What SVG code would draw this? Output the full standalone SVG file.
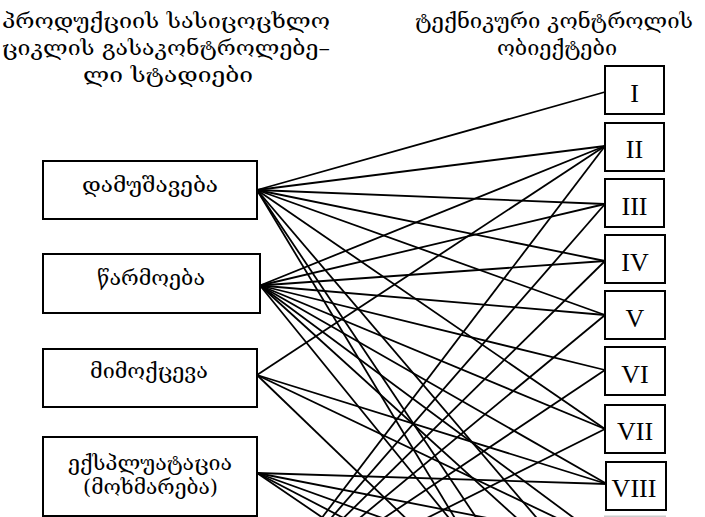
<svg xmlns="http://www.w3.org/2000/svg" width="705" height="517" viewBox="0 0 705 517">
  <style>
    .box { fill: #fff; stroke: #000; stroke-width: 2; }
    .geo { font-family: "DejaVu Serif", "DejaVu Sans", serif; font-size: 21px; fill: #000; }
    .num { font-family: "Liberation Serif", "Times New Roman", serif; font-size: 26px; fill: #000; text-anchor: middle; }
    #connectors line { stroke: #000; stroke-width: 1.8; }
  </style>
  <rect width="705" height="517" fill="#fff"/>

  <!-- column headings -->
  <g id="heading-stages">
    <text class="geo" x="2" y="28" textLength="328" lengthAdjust="spacingAndGlyphs">პროდუქციის  სასიცოცხლო</text>
    <text class="geo" x="2" y="55" textLength="328" lengthAdjust="spacingAndGlyphs">ციკლის  გასაკონტროლებე–</text>
    <text class="geo" x="83" y="82" textLength="170" lengthAdjust="spacingAndGlyphs">ლი  სტადიები</text>
  </g>
  <g id="heading-objects">
    <text class="geo" x="415" y="28" textLength="278" lengthAdjust="spacingAndGlyphs">ტექნიკური  კონტროლის</text>
    <text class="geo" x="497" y="55" textLength="120" lengthAdjust="spacingAndGlyphs">ობიექტები</text>
  </g>

  <!-- connectors: life-cycle stages to inspection objects -->
  <g id="connectors">
    <!-- stage 1 -->
    <line x1="257" y1="190" x2="605" y2="92"/>
    <line x1="257" y1="190" x2="605" y2="146"/>
    <line x1="257" y1="190" x2="605" y2="204"/>
    <line x1="257" y1="190" x2="605" y2="261"/>
    <line x1="257" y1="190" x2="605" y2="315"/>
    <line x1="257" y1="190" x2="605" y2="429"/>
    <line x1="257" y1="190" x2="605" y2="598"/>
    <line x1="257" y1="190" x2="605" y2="710"/>
    <line x1="257" y1="190" x2="605" y2="767"/>
    <!-- stage 2 -->
    <line x1="260" y1="285.5" x2="605" y2="146"/>
    <line x1="260" y1="285.5" x2="605" y2="204"/>
    <line x1="260" y1="285.5" x2="605" y2="261"/>
    <line x1="260" y1="285.5" x2="605" y2="315"/>
    <line x1="260" y1="285.5" x2="605" y2="370"/>
    <line x1="260" y1="285.5" x2="605" y2="429"/>
    <line x1="260" y1="285.5" x2="607" y2="484"/>
    <line x1="260" y1="285.5" x2="605" y2="541"/>
    <line x1="260" y1="285.5" x2="605" y2="598"/>
    <line x1="260" y1="285.5" x2="605" y2="710"/>
    <!-- stage 3 -->
    <line x1="257" y1="375" x2="605" y2="146"/>
    <line x1="257" y1="375" x2="607" y2="484"/>
    <line x1="257" y1="375" x2="605" y2="541"/>
    <line x1="257" y1="375" x2="605" y2="710"/>
    <!-- stage 4 -->
    <line x1="257" y1="473" x2="607" y2="484"/>
    <line x1="257" y1="473" x2="605" y2="541"/>
    <line x1="257" y1="473" x2="605" y2="598"/>
    <line x1="257" y1="473" x2="605" y2="654"/>
    <line x1="257" y1="473" x2="605" y2="710"/>
    <!-- stage 5 (below) -->
    <line x1="257" y1="603" x2="605" y2="146"/>
    <line x1="257" y1="603" x2="605" y2="204"/>
    <line x1="257" y1="603" x2="605" y2="261"/>
    <line x1="257" y1="603" x2="605" y2="315"/>
    <line x1="257" y1="603" x2="605" y2="370"/>
    <line x1="257" y1="603" x2="605" y2="429"/>
  </g>

  <!-- life-cycle stages -->
  <g id="stage-processing">
    <rect class="box" x="43" y="161" width="214" height="58"/>
    <text class="geo" x="82" y="192" textLength="136" lengthAdjust="spacingAndGlyphs">დამუშავება</text>
  </g>
  <g id="stage-production">
    <rect class="box" x="43" y="254" width="217" height="59"/>
    <text class="geo" x="97" y="285" textLength="108" lengthAdjust="spacingAndGlyphs">წარმოება</text>
  </g>
  <g id="stage-circulation">
    <rect class="box" x="43" y="349" width="214" height="58"/>
    <text class="geo" x="90" y="378" textLength="118" lengthAdjust="spacingAndGlyphs">მიმოქცევა</text>
  </g>
  <g id="stage-operation">
    <rect class="box" x="43" y="437" width="214" height="79"/>
    <text class="geo" x="68" y="470" textLength="164" lengthAdjust="spacingAndGlyphs">ექსპლუატაცია</text>
    <text class="geo" x="83" y="494" textLength="135" lengthAdjust="spacingAndGlyphs">(მოხმარება)</text>
  </g>

  <!-- inspection objects -->
  <g id="object-1"><rect class="box" x="605" y="66" width="59" height="48"/><text class="num" x="634.5" y="102">I</text></g>
  <g id="object-2"><rect class="box" x="605" y="123" width="59" height="48"/><text class="num" x="634.5" y="158">II</text></g>
  <g id="object-3"><rect class="box" x="605" y="179" width="59" height="48"/><text class="num" x="634.5" y="215">III</text></g>
  <g id="object-4"><rect class="box" x="605" y="235" width="60" height="48"/><text class="num" x="635" y="271">IV</text></g>
  <g id="object-5"><rect class="box" x="605" y="291" width="60" height="48"/><text class="num" x="635" y="327">V</text></g>
  <g id="object-6"><rect class="box" x="605" y="347" width="60" height="48"/><text class="num" x="635" y="383">VI</text></g>
  <g id="object-7"><rect class="box" x="605" y="405" width="60" height="48"/><text class="num" x="635" y="440">VII</text></g>
  <g id="object-8"><rect class="box" x="606" y="462" width="60" height="48"/><text class="num" x="634" y="497">VIII</text></g>
  <g id="object-9"><rect class="box" x="605" y="516.5" width="60" height="48" style="stroke:#ccc"/></g>
</svg>
